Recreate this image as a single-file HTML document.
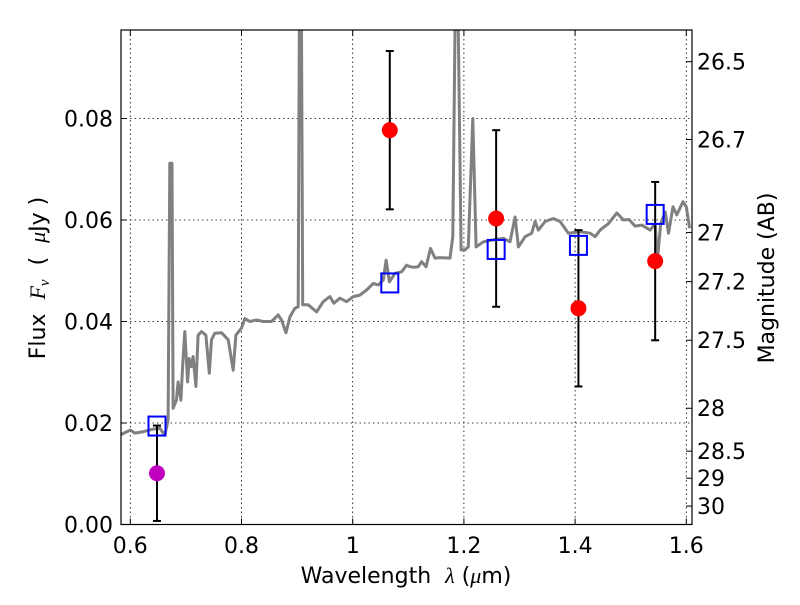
<!DOCTYPE html>
<html><head><meta charset="utf-8"><style>
body{margin:0;background:#fff}
svg text{font-family:"DejaVu Sans","Liberation Sans",sans-serif;fill:#000}
</style></head><body>
<svg id="c" width="800" height="600" xmlns="http://www.w3.org/2000/svg"></svg>
<script>
const specLam=[0.581,0.6,0.6085,0.624,0.641,0.653,0.662,0.668,0.671,0.675,0.677,0.683,0.686,0.691,0.694,0.698,0.703,0.706,0.710,0.713,0.718,0.722,0.728,0.736,0.742,0.746,0.752,0.764,0.776,0.785,0.790,0.800,0.806,0.815,0.827,0.839,0.854,0.866,0.872,0.880,0.887,0.896,0.902,0.904,0.908,0.910,0.920,0.935,0.947,0.959,0.966,0.977,0.989,1.001,1.013,1.025,1.037,1.046,1.055,1.060,1.066,1.076,1.088,1.097,1.103,1.109,1.118,1.124,1.132,1.140,1.148,1.157,1.175,1.180,1.184,1.190,1.195,1.202,1.208,1.216,1.222,1.235,1.253,1.271,1.283,1.292,1.298,1.310,1.322,1.328,1.334,1.346,1.361,1.373,1.388,1.409,1.427,1.436,1.445,1.460,1.475,1.487,1.497,1.508,1.520,1.535,1.544,1.548,1.554,1.562,1.568,1.576,1.583,1.594,1.600,1.606];
const specFlux=[0.0176,0.0186,0.0180,0.0183,0.0188,0.0190,0.0176,0.0206,0.0712,0.0712,0.0229,0.0245,0.0281,0.0245,0.0311,0.038,0.0281,0.0327,0.0311,0.0331,0.0272,0.0373,0.038,0.0373,0.0298,0.0364,0.0377,0.0378,0.0364,0.0304,0.0373,0.0387,0.0406,0.04,0.0403,0.04,0.04,0.0413,0.0403,0.0378,0.0409,0.0426,0.0429,0.0975,0.0975,0.0433,0.0433,0.0419,0.0439,0.0449,0.0436,0.0446,0.0439,0.0449,0.0452,0.0462,0.0475,0.0472,0.0482,0.0521,0.0478,0.0495,0.0498,0.0511,0.0508,0.0507,0.0508,0.0518,0.0508,0.0544,0.0525,0.0526,0.0525,0.0567,0.0975,0.0975,0.0541,0.0541,0.0547,0.080,0.0547,0.0557,0.0561,0.0564,0.0557,0.0606,0.0547,0.0567,0.0574,0.0597,0.058,0.0597,0.0603,0.0597,0.0574,0.0577,0.0574,0.0567,0.058,0.0593,0.0614,0.06,0.0601,0.0588,0.059,0.058,0.0593,0.0521,0.0593,0.0616,0.0574,0.0626,0.061,0.0636,0.0626,0.0584];
const obsLam=[0.648,1.0667,1.258,1.406,1.544];
const obsFlux=[0.0101,0.0777,0.0603,0.0426,0.0519];
const obsErr=[0.0094,0.0156,0.0174,0.0154,0.0156];
const obsColor=['#bf00bf','#ff0000','#ff0000','#ff0000','#ff0000'];
const modelFlux=[0.0194,0.0476,0.0542,0.055,0.0611];
const xTicks=[0.6,0.8,1.0,1.2,1.4,1.6];
const xTickLabels=['0.6','0.8','1','1.2','1.4','1.6'];
const yTicks=[0,0.02,0.04,0.06,0.08];
const yTickLabels=['0.00','0.02','0.04','0.06','0.08'];
const magTicks=[26.5,26.7,27,27.2,27.5,28,28.5,29,30];
const magTickLabels=['26.5','26.7','27','27.2','27.5','28','28.5','29','30'];

const L=121,R=692,T=30,B=524.5;
const X=v=>130.3+(v-0.6)*556;
const Y=v=>524.5-v*5075;
const MY=m=>Y(Math.pow(10,(23.9-m)/2.5));
const svg=document.getElementById('c');
const NS='http://www.w3.org/2000/svg';
function mk(tag,attrs,parent){const e=document.createElementNS(NS,tag);for(const k in attrs)e.setAttribute(k,attrs[k]);(parent||svg).appendChild(e);return e;}

const grid=mk('g',{});


xTicks.forEach(v=>{mk('line',{x1:X(v),x2:X(v),y1:T,y2:B,stroke:'#000','stroke-width':0.8,'stroke-dasharray':'1.5,3'},grid);});
yTicks.forEach(v=>{mk('line',{x1:L,x2:R,y1:Y(v),y2:Y(v),stroke:'#000','stroke-width':0.8,'stroke-dasharray':'1.5,3'},grid);});

const clip=mk('clipPath',{id:'pc'});mk('rect',{x:L,y:T,width:R-L,height:B-T},clip);
const pts=specLam.map((l,i)=>X(l).toFixed(1)+','+Y(specFlux[i]).toFixed(1)).join(' ');
const spec=mk('polyline',{points:pts,fill:'none',stroke:'#808080','stroke-width':3,'stroke-linejoin':'round','clip-path':'url(#pc)'});



obsLam.forEach((l,i)=>{
  const g=mk('g',{});
  
  
  const x=X(l),y1=Y(obsFlux[i]+obsErr[i]),y2=Y(obsFlux[i]-obsErr[i]);
  mk('line',{x1:x,x2:x,y1:y1,y2:y2,stroke:'#000','stroke-width':2},g);
  mk('line',{x1:x-4,x2:x+4,y1:y1,y2:y1,stroke:'#000','stroke-width':2},g);
  mk('line',{x1:x-4,x2:x+4,y1:y2,y2:y2,stroke:'#000','stroke-width':2},g);
});
obsLam.forEach((l,i)=>{
  const s=mk('rect',{x:X(l)-8.5,y:Y(modelFlux[i])-9.5,width:17,height:19,fill:'none',stroke:'#0000ff','stroke-width':2});
  
  
});
obsLam.forEach((l,i)=>{
  const c=mk('circle',{cx:X(l),cy:Y(obsFlux[i]),r:8,fill:obsColor[i]});
  
  
});

const frame=mk('rect',{x:L,y:T,width:R-L,height:B-T,fill:'none',stroke:'#000','stroke-width':1.2});



xTicks.forEach((v,i)=>{
  mk('line',{x1:X(v),x2:X(v),y1:B,y2:B-6,stroke:'#000'});
  mk('line',{x1:X(v),x2:X(v),y1:T,y2:T+6,stroke:'#000'});
  const t=mk('text',{x:X(v),y:553,'font-size':22,'text-anchor':'middle'});
  t.textContent=xTickLabels[i];
  
  
});
yTicks.forEach((v,i)=>{
  mk('line',{x1:L,x2:L+6,y1:Y(v),y2:Y(v),stroke:'#000'});
  const t=mk('text',{x:113,y:Y(v)+8,'font-size':22,'text-anchor':'end'});
  t.textContent=yTickLabels[i];
  
  
});
magTicks.forEach((m,i)=>{
  mk('line',{x1:R,x2:R-6,y1:MY(m),y2:MY(m),stroke:'#000'});
  const t=mk('text',{x:697,y:MY(m)+8,'font-size':22});
  t.textContent=magTickLabels[i];
  
  
});
</script>
<svg width="800" height="600" style="position:absolute;left:0;top:0" xmlns="http://www.w3.org/2000/svg">
<text x="406" y="583" font-size="22" text-anchor="middle" xml:space="preserve">Wavelength  <tspan font-style="italic" font-family="Liberation Serif">λ</tspan> (<tspan font-style="italic" font-family="Liberation Serif">μ</tspan>m)</text>
<text transform="translate(45,278) rotate(-90)" font-size="22" text-anchor="middle" xml:space="preserve">Flux  <tspan font-style="italic" font-family="Liberation Serif">F</tspan><tspan font-style="italic" font-family="Liberation Serif" font-size="15" dy="4">ν</tspan><tspan dy="-4">  (  </tspan><tspan font-style="italic" font-family="Liberation Serif">μ</tspan>Jy )</text>
<text transform="translate(774,278) rotate(-90)" font-size="22" text-anchor="middle">Magnitude (AB)</text>
</svg>
</body></html>
